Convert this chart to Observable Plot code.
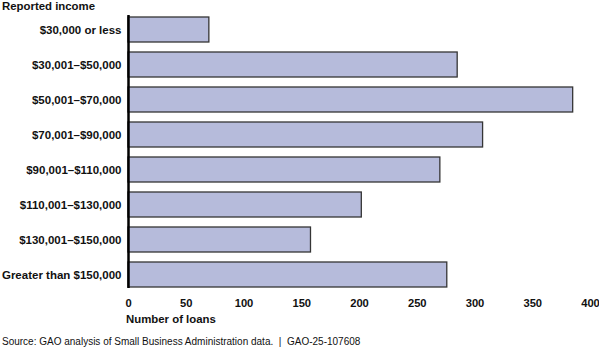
<!DOCTYPE html>
<html>
<head>
<meta charset="utf-8">
<script src="https://cdn.jsdelivr.net/npm/d3@7"></script>
<script src="https://cdn.jsdelivr.net/npm/@observablehq/plot@0.6"></script>
<style>
  body { margin: 0; background: #fff; }
  #wrap { position: relative; width: 599px; height: 350px; font-family: "Liberation Sans", Arial, sans-serif; color: #111; }
  #title { position: absolute; left: 2px; top: 0px; font-weight: bold; font-size: 11.4px; }
  #xlabel { position: absolute; left: 126px; top: 313px; font-weight: bold; font-size: 11.4px; }
  #source { position: absolute; left: 2px; top: 336px; font-size: 10px; }
  #chart { position: absolute; left: 0; top: 0; }
</style>
</head>
<body>
<div id="wrap">
  <div id="chart"></div>
  <div id="title">Reported income</div>
  <div id="xlabel">Number of loans</div>
  <div id="source">Source: GAO analysis of Small Business Administration data.&nbsp; |&nbsp; GAO-25-107608</div>
</div>
<script>
const categories = [
  "$30,000 or less",
  "$30,001–$50,000",
  "$50,001–$70,000",
  "$70,001–$90,000",
  "$90,001–$110,000",
  "$110,001–$130,000",
  "$130,001–$150,000",
  "Greater than $150,000"
];
const loans = [70, 285, 385, 307, 270, 202, 158, 276];
const xTicks = [0, 50, 100, 150, 200, 250, 300, 350, 400];

const data = categories.map((c, i) => ({category: c, loans: loans[i]}));

const plot = Plot.plot({
  width: 599,
  height: 350,
  marginLeft: 128,
  marginRight: 9,
  marginTop: 10,
  marginBottom: 57,
  style: {fontFamily: "'Liberation Sans', Arial, sans-serif", fontSize: "11px", color: "#111"},
  x: {domain: [0, 400], ticks: xTicks, label: null},
  y: {domain: categories, paddingInner: 0.3, paddingOuter: 0.15, label: null},
  marks: [
    Plot.barX(data, {x: "loans", y: "category", fill: "#b6bbdb", stroke: "#353535", strokeWidth: 1.3}),
    Plot.ruleX([0], {stroke: "#000", strokeWidth: 2.5, insetTop: 5, insetBottom: 5}),
    Plot.axisY({tickSize: 0, tickPadding: 7, fontWeight: "bold", fontSize: 11.5, label: null}),
    Plot.axisX({ticks: xTicks, tickSize: 0, tickPadding: 6, fontWeight: "bold", fontSize: 11.2, label: null})
  ]
});
document.getElementById("chart").appendChild(plot);
</script>
</body>
</html>
